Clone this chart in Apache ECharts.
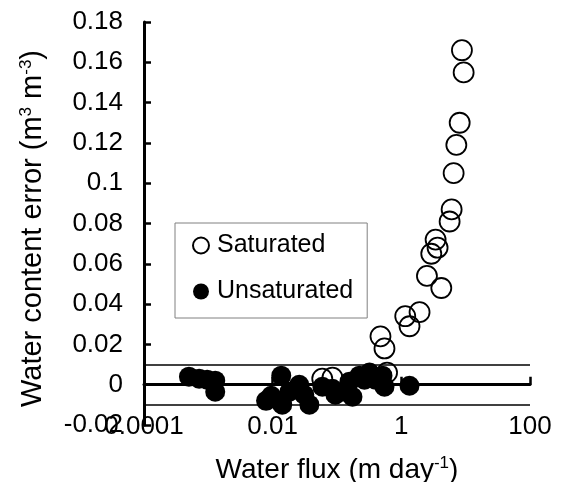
<!DOCTYPE html>
<html>
<head>
<meta charset="utf-8">
<script src="https://cdn.jsdelivr.net/npm/echarts@6/dist/echarts.min.js"></script>
<style>
  html, body { margin: 0; background: #fff; }
  #chart { width: 565px; height: 482px; }
</style>
</head>
<body>
<div id="chart"></div>
<script>
// 饱和 (open circles)
const satFlux  = [8.75, 9.3, 8.07, 7.16, 6.5, 6.05, 5.63, 3.41, 3.66, 2.92, 2.5, 4.18, 1.92, 1.15, 1.34, 0.474, 0.547, 0.059, 0.085, 0.60];
const satError = [0.166, 0.155, 0.130, 0.119, 0.105, 0.087, 0.081, 0.072, 0.068, 0.065, 0.054, 0.048, 0.036, 0.034, 0.029, 0.024, 0.018, 0.003, 0.0035, 0.006];

// 非饱和 (filled circles)
const unsatFlux  = [0.0005, 0.00072, 0.00096, 0.00128, 0.00128, 0.0079, 0.0095, 0.0136, 0.0141, 0.0182, 0.0259, 0.031, 0.0372, 0.0593, 0.0847, 0.0944, 0.135, 0.156, 0.174, 0.223, 0.267, 0.32, 0.396, 0.509, 0.547, 1.34];
const unsatError = [0.004, 0.003, 0.0025, 0.002, -0.0035, -0.008, -0.0055, 0.0045, -0.0099, -0.0035, 0, -0.005, -0.0099, -0.001, -0.002, -0.005, -0.0035, 0.0015, -0.006, 0.0045, 0.0025, 0.006, 0.0025, 0.0045, -0.001, -0.0005];

// 误差带
const bandLines = [0.01, -0.01];

const zip = (xs, ys) => xs.map((x, i) => [x, ys[i]]);
const font = 'Liberation Sans, Arial, sans-serif';
const supStyle = { fontSize: 17, verticalAlign: 'top', padding: [0, 0, 13, 0], fontFamily: font };

const chart = echarts.init(document.getElementById('chart'));
chart.setOption({
  animation: false,
  textStyle: { fontFamily: font, color: '#000' },
  grid: { left: 144, right: 35, top: 22, bottom: 57, outerBoundsMode: 'none', containLabel: false },
  legend: {
    orient: 'vertical',
    left: 175,
    top: 223,
    padding: [10, 14, 14, 17],
    borderColor: '#808080',
    borderWidth: 1,
    itemWidth: 16,
    itemHeight: 16,
    itemGap: 21,
    textStyle: { fontSize: 25, color: '#000', fontFamily: font, padding: [0, 0, 0, 3] },
    data: [
      { name: 'Saturated', icon: 'circle' },
      { name: 'Unsaturated', icon: 'circle' }
    ]
  },
  xAxis: [
    {
      // 零线上的轴线和刻度
      type: 'log',
      logBase: 10,
      min: 0.0001,
      max: 100,
      interval: 2,
      position: 'bottom',
      axisLine: { show: true, onZero: true, onZeroAxisIndex: 0, lineStyle: { color: '#000', width: 3 } },
      axisTick: { show: true, inside: true, length: 8, lineStyle: { color: '#000', width: 2.5 } },
      axisLabel: { show: false },
      splitLine: { show: false }
    },
    {
      // 底部文字
      type: 'log',
      logBase: 10,
      min: 0.0001,
      max: 100,
      interval: 2,
      position: 'bottom',
      axisLine: { show: false, onZero: false },
      axisTick: { show: false },
      splitLine: { show: false },
      axisLabel: { fontSize: 26, color: '#000', margin: -11, fontFamily: font, showMinLabel: true, showMaxLabel: true, hideOverlap: false },
      name: 'Water flux (m day{sup|-1})',
      nameLocation: 'middle',
      nameGap: 30,
      nameTextStyle: { fontSize: 28, color: '#000', fontFamily: font, rich: { sup: supStyle } }
    }
  ],
  yAxis: {
    type: 'value',
    min: -0.02,
    max: 0.18,
    interval: 0.02,
    axisLine: { show: true, onZero: false, lineStyle: { color: '#000', width: 3 } },
    axisTick: { show: true, inside: true, length: 7, lineStyle: { color: '#000', width: 2.5 } },
    splitLine: { show: false },
    axisLabel: { fontSize: 26, color: '#000', margin: 21, fontFamily: font },
    name: 'Water content error (m{sup|3} m{sup|-3})',
    nameLocation: 'middle',
    nameRotate: 90,
    nameGap: 96,
    nameTextStyle: { fontSize: 29, color: '#000', fontFamily: font, padding: [0, 10, 0, 0], rich: { sup: supStyle } }
  },
  series: [
    {
      name: 'Saturated',
      type: 'scatter',
      xAxisIndex: 0,
      symbol: 'circle',
      symbolSize: 20,
      itemStyle: { color: 'rgba(255,255,255,0)', borderColor: '#000', borderWidth: 1.8, opacity: 1 },
      data: zip(satFlux, satError),
      markLine: {
        silent: true,
        symbol: 'none',
        label: { show: false },
        lineStyle: { color: '#000', width: 1.5, type: 'solid' },
        data: bandLines.map(v => ({ yAxis: v }))
      }
    },
    {
      name: 'Unsaturated',
      type: 'scatter',
      xAxisIndex: 0,
      symbol: 'circle',
      symbolSize: 20,
      itemStyle: { color: '#000', opacity: 1 },
      data: zip(unsatFlux, unsatError)
    }
  ]
});
</script>
</body>
</html>
